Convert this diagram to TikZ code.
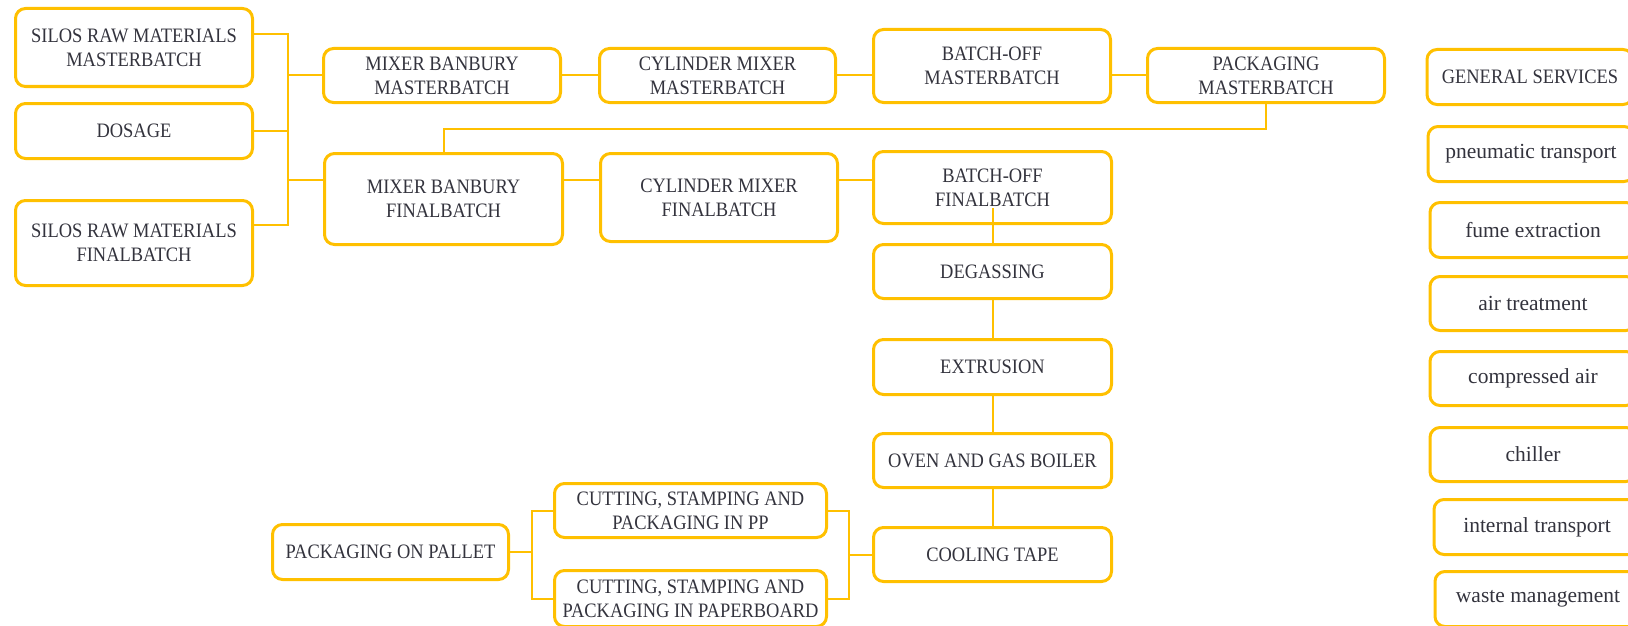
\documentclass[tikz,border=0pt]{standalone}
\usepackage{fontspec}
\setmainfont{Liberation Serif}[FakeStretch=0.9]
\newfontfamily\svcfont{Liberation Serif}
\definecolor{gold}{HTML}{FFC000}
\definecolor{ink}{HTML}{33333D}
\tikzset{
  box/.style n args={2}{draw=gold, line width=3pt, rounded corners=10pt,
    align=center, text=ink, inner sep=2pt, minimum width=#1, minimum height=#2,
    font=\fontsize{20.5}{24}\selectfont},
  svc/.style n args={2}{box={#1}{#2}, font=\svcfont\fontsize{21.5}{26}\selectfont},
  link/.style={draw=gold, line width=2pt}
}
\begin{document}
\begin{tikzpicture}[x=1pt,y=-1pt]
      \clip (0,0) rectangle (1628,626);
      \draw
        (134,47.5) node[box={237}{78}] (smb) {SILOS RAW MATERIALS\\MASTERBATCH}
        (134,131) node[box={237}{55}] (dos) {DOSAGE}
        (134,243) node[box={237}{85}] (sfb) {SILOS RAW MATERIALS\\FINALBATCH}
        (442,75.5) node[box={237}{54}] (mmb) {MIXER BANBURY\\MASTERBATCH}
        (717.5,75.5) node[box={236}{54}] (cmb) {CYLINDER MIXER\\MASTERBATCH}
        (992,66) node[box={237}{73}] (bmb) {BATCH-OFF\\MASTERBATCH}
        (1266,75.5) node[box={237}{54}] (pmb) {PACKAGING\\MASTERBATCH}
        (443.5,199) node[box={238}{91}] (mfb) {MIXER BANBURY\\FINALBATCH}
        (719,197.5) node[box={237}{88}] (cfb) {CYLINDER MIXER\\FINALBATCH}
        (992.5,187.5) node[box={238}{72}] (bfb) {BATCH-OFF\\FINALBATCH}
        (992.5,271.5) node[box={238}{54}] (deg) {DEGASSING}
        (992.5,367) node[box={238}{55}] (ext) {EXTRUSION}
        (992.5,460.5) node[box={238}{54}] (ovn) {OVEN AND GAS BOILER}
        (992.5,554.5) node[box={238}{54}] (cool) {COOLING TAPE}
        (390.5,552) node[box={236}{55}] (pal) {PACKAGING ON PALLET}
        (690.5,510.5) node[box={272}{54}] (cpp) {CUTTING, STAMPING AND\\PACKAGING IN PP}
        (690.5,598.5) node[box={272}{56}] (cpb) {CUTTING, STAMPING AND\\PACKAGING IN PAPERBOARD}
        (1530,77) node[box={206}{55}] (gen) {GENERAL SERVICES}
        (1531,154) node[svc={206}{55}] (pneu) {pneumatic transport}
        (1533,230) node[svc={206}{55}] (fume) {fume extraction}
        (1533,303.5) node[svc={206}{54}] (air) {air treatment}
        (1533,378.5) node[svc={206}{54}] (comp) {compressed air}
        (1533,454.5) node[svc={206}{54}] (chil) {chiller}
        (1537,527) node[svc={206}{55}] (intr) {internal transport}
        (1538,599) node[svc={206}{55}] (waste) {waste management};
      \coordinate (feedA) at (288,34);
      \coordinate (feedB) at (288,225);
      \coordinate (loop) at (0,129);
      \coordinate (frow) at (0,180);
      \coordinate (cutR) at (849,554.5);
      \coordinate (cutL) at (532,552);
      \begin{scope}[link]
        \draw ([yshift=13.5pt]smb.east) -- (feedA) -- (feedB) -- ([yshift=18pt]sfb.east);
        \draw (dos.east) -- (dos.east -| feedA);
        \draw (feedA |- mmb.west) -- (mmb.west);
        \draw (feedA |- frow) -- (mfb.west |- frow);
        \draw (mmb.east) -- (cmb.west);
        \draw (cmb.east) -- (bmb.west |- cmb.east);
        \draw (bmb.east |- pmb.west) -- (pmb.west);
        \draw (pmb.south) |- (mfb.north |- loop) -- (mfb.north);
        \draw (mfb.east |- frow) -- (cfb.west |- frow);
        \draw (cfb.east |- frow) -- (bfb.west |- frow);
        \draw ([yshift=-20.5pt]bfb.center) -- (deg.north);
        \draw (deg) -- (ext);
        \draw (ext) -- (ovn);
        \draw (ovn) -- (cool);
        \draw (cool.west) -- (cutR);
        \draw (cpp.east) -| (cutR) |- (cpb.east);
        \draw (pal.east) -- (cutL);
        \draw (cpp.west) -| (cutL) |- (cpb.west);
      \end{scope}
    \end{tikzpicture}
\end{document}
